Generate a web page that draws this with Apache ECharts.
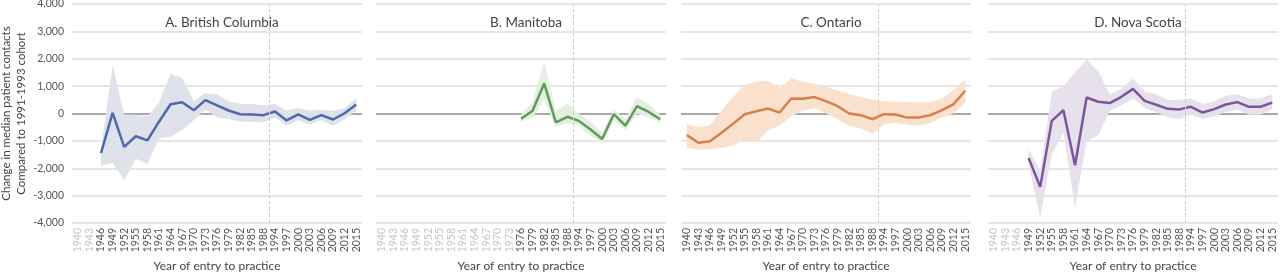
<!DOCTYPE html>
<html>
<head>
<meta charset="utf-8">
<script src="https://cdn.jsdelivr.net/npm/echarts@6/dist/echarts.min.js"></script>
<style>
  html, body { margin: 0; padding: 0; background: #fff; }
  #chart { width: 1280px; height: 274px; }
</style>
</head>
<body>
<div id="chart"></div>
<script>
var years = ['1940', '1943', '1946', '1949', '1952', '1955', '1958', '1961', '1964', '1967', '1970', '1973',
    '1976', '1979', '1982', '1985', '1988', '1994', '1997', '2000', '2003', '2006', '2009', '2012', '2015'];
var yTicks = [-4000, 4000, 1000];  // min, max, step

var titles = ['A. British Columbia', 'B. Manitoba', 'C. Ontario', 'D. Nova Scotia'];

// British Columbia
var bcMid  = [null, null, -1450, 20, -1220, -830, -980, -300, 340, 410, 120, 490, 300, 110, -25, -35, -60, 75, -255, -35, -230, -60, -220, 10, 330];
var bcLow  = [null, null, -1900, -1800, -2450, -1650, -1850, -900, -850, -600, -250, 150, -150, -200, -300, -300, -320, -150, -450, -250, -400, -250, -450, -200, 100];
var bcHigh = [null, null, -1300, 1750, -50, -50, -100, 400, 1450, 1300, 450, 750, 700, 450, 350, 350, 300, 350, 100, 200, 100, 150, 100, 200, 550];

// Manitoba
var mbMid  = [null, null, null, null, null, null, null, null, null, null, null, null, -195, 100, 1100, -320, -120, -270, -585, -930, -25, -440, 270, 60, -210];
var mbLow  = [null, null, null, null, null, null, null, null, null, null, null, null, -300, -150, 500, -480, -350, -450, -800, -1100, -250, -600, 0, -150, -350];
var mbHigh = [null, null, null, null, null, null, null, null, null, null, null, null, -50, 400, 1900, 100, 370, 0, -300, -700, 150, -200, 600, 350, -50];

// Ontario
var onMid  = [-790, -1070, -1010, -700, -370, -25, 85, 180, 35, 550, 540, 600, 450, 270, 0, -60, -210, -25, -35, -150, -145, -60, 120, 340, 830];
var onLow  = [-1250, -1330, -1300, -1250, -1160, -970, -1050, -610, -450, -100, 100, 200, 0, -200, -450, -550, -730, -400, -350, -400, -450, -350, -150, 0, 400];
var onHigh = [-400, -490, -430, 120, 610, 1040, 1160, 1200, 920, 1280, 1160, 1100, 975, 850, 700, 600, 500, 450, 430, 420, 400, 420, 550, 850, 1250];

// Nova Scotia
var nsMid  = [null, null, null, -1620, -2680, -270, 120, -1890, 585, 430, 380, 610, 900, 460, 320, 170, 150, 245, 35, 160, 330, 415, 245, 245, 400];
var nsLow  = [null, null, null, -1850, -3800, -1500, -700, -3450, -1000, -800, 100, 300, 550, 200, 50, -150, -200, -50, -200, -100, 50, 150, -50, -50, 150];
var nsHigh = [null, null, null, -1300, -2100, 790, 1000, 1500, 1975, 1550, 700, 900, 1280, 800, 700, 500, 500, 550, 350, 450, 650, 700, 550, 550, 700];

var panels = [
    {mid: bcMid, low: bcLow, high: bcHigh, line: '#4d6aa8', band: '#dfe2eb'},
    {mid: mbMid, low: mbLow, high: mbHigh, line: '#5f9b5f', band: '#e4efdf'},
    {mid: onMid, low: onLow, high: onHigh, line: '#d4804f', band: '#f9e1cd'},
    {mid: nsMid, low: nsLow, high: nsHigh, line: '#7d559c', band: '#e7e1ec'}
];
var gridLefts = [72, 376, 681, 988];
var gridWidth = 290;
var font = 'Lato';

var myChart = echarts.init(document.getElementById('chart'));

var grids = [], xAxes = [], yAxes = [], series = [], titleList = [];

panels.forEach(function (p, k) {
    grids.push({left: gridLefts[k], width: gridWidth, top: 4, height: 219, outerBoundsMode: 'none'});

    titleList.push({
        text: titles[k],
        left: gridLefts[k] + gridWidth / 2,
        top: 11,
        textAlign: 'center',
        textStyle: {fontFamily: font, fontSize: 13.5, fontWeight: 'normal', color: '#444'}
    });

    xAxes[k] = {
        gridIndex: k,
        type: 'category',
        data: years,
        boundaryGap: true,
        name: 'Year of entry to practice',
        nameLocation: 'middle',
        nameGap: 37,
        nameTextStyle: {fontFamily: font, fontSize: 12, color: '#444'},
        axisLine: {show: false},
        axisTick: {show: false},
        axisLabel: {
            interval: 0,
            rotate: 90,
            margin: 5,
            fontFamily: font,
            fontSize: 10.5,
            color: function (value, index) {
                return p.mid[index] == null ? '#c4c4c4' : '#555';
            }
        },
        splitLine: {show: false}
    };
    // hidden value axis on the same grid, used to place the cohort divider between two categories
    xAxes[4 + k] = {
        gridIndex: k,
        type: 'value',
        min: -0.5,
        max: years.length - 0.5,
        show: false
    };

    yAxes.push({
        gridIndex: k,
        type: 'value',
        min: yTicks[0],
        max: yTicks[1],
        interval: yTicks[2],
        name: k === 0 ? 'Change in median patient contacts\nCompared to 1991-1993 cohort' : '',
        nameLocation: 'middle',
        nameGap: 43,
        nameTextStyle: {fontFamily: font, fontSize: 11.5, color: '#444', lineHeight: 15},
        axisLine: {show: false},
        axisTick: {show: false},
        axisLabel: {
            show: k === 0,
            fontFamily: font,
            fontSize: 10.5,
            color: '#555',
            margin: 8,
            formatter: function (v) { return v.toLocaleString('en-US'); }
        },
        splitLine: {
            lineStyle: {
                width: 1.5,
                color: ['#dcdcdc', '#dcdcdc', '#dcdcdc', '#dcdcdc', '#8c8c8c', '#dcdcdc', '#dcdcdc', '#dcdcdc', '#dcdcdc']
            }
        }
    });

    var diff = p.high.map(function (h, i) {
        return h == null || p.low[i] == null ? null : h - p.low[i];
    });

    series.push({
        type: 'line',
        xAxisIndex: k,
        yAxisIndex: k,
        data: p.low,
        stack: 'band' + k,
        stackStrategy: 'all',
        symbol: 'none',
        lineStyle: {opacity: 0},
        silent: true,
        z: 1
    });
    series.push({
        type: 'line',
        xAxisIndex: k,
        yAxisIndex: k,
        data: diff,
        stack: 'band' + k,
        stackStrategy: 'all',
        symbol: 'none',
        lineStyle: {opacity: 0},
        areaStyle: {color: p.band, opacity: 1},
        silent: true,
        z: 1
    });
    series.push({
        type: 'line',
        xAxisIndex: k,
        yAxisIndex: k,
        data: p.mid,
        symbol: 'none',
        lineStyle: {color: p.line, width: 2.5},
        z: 3
    });
    // reference cohort (1991-1993) sits between 1988 and 1994
    series.push({
        type: 'line',
        xAxisIndex: 4 + k,
        yAxisIndex: k,
        data: [],
        silent: true,
        markLine: {
            silent: true,
            symbol: 'none',
            label: {show: false},
            lineStyle: {color: '#cfcfcf', type: 'dashed', width: 1},
            data: [{xAxis: 16.5}]
        },
        z: 2
    });
});

var option = {
    animation: false,
    title: titleList,
    grid: grids,
    xAxis: xAxes,
    yAxis: yAxes,
    series: series
};

myChart.setOption(option);
</script>
</body>
</html>
